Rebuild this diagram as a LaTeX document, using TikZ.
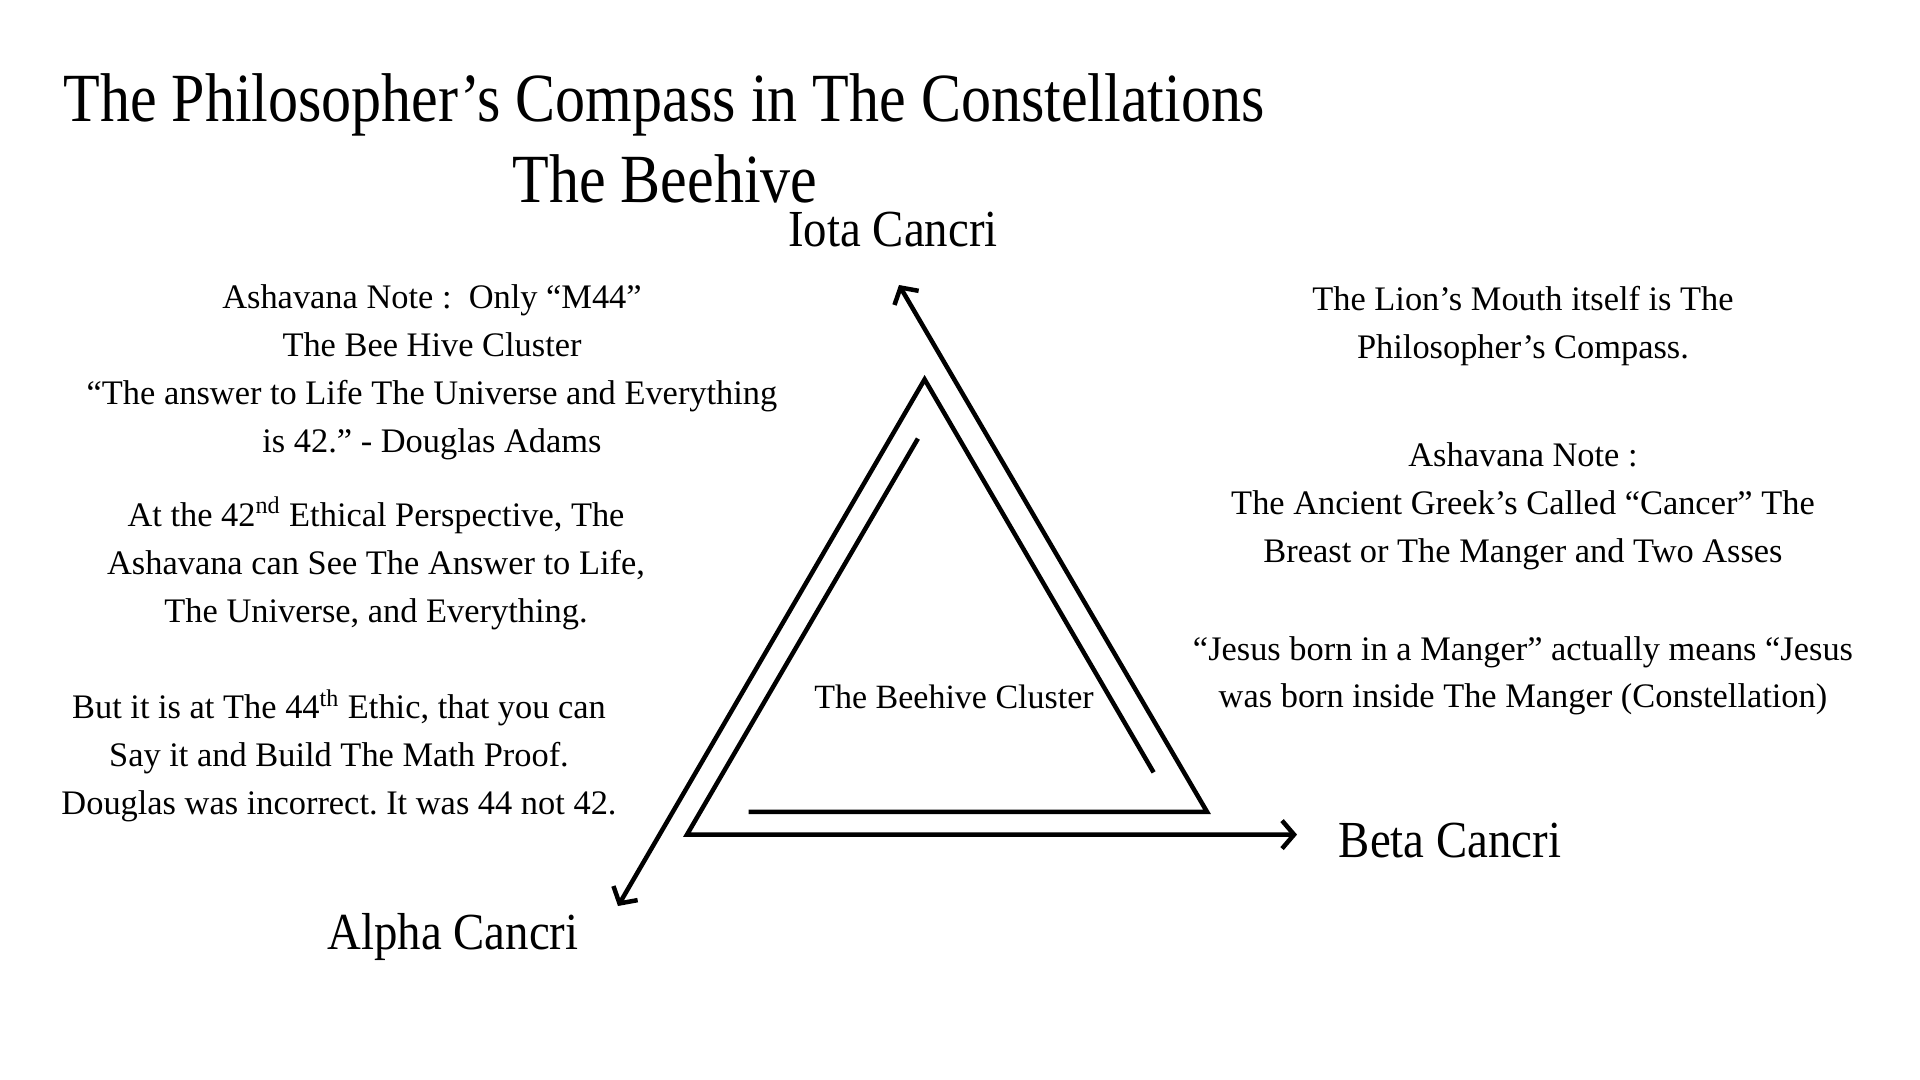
\documentclass[tikz,border=0pt]{standalone}
\usepackage{fontspec}
\setmainfont{Liberation Serif}
\newfontfamily\titlefont[FakeStretch=0.87]{Liberation Serif}
\newfontfamily\labelfont[FakeStretch=0.9]{Liberation Serif}
\usetikzlibrary{arrows.meta}
\frenchspacing
\begin{document}
\begin{tikzpicture}[x=0.5pt,y=-0.5pt,
  body/.style={font=\fontsize{17.2}{21}\selectfont, anchor=base, inner sep=0pt},
  titletext/.style={font=\titlefont\fontsize{34.5}{40}\selectfont, anchor=base, inner sep=0pt},
  starlabel/.style={font=\labelfont\fontsize{26}{30}\selectfont, anchor=base, inner sep=0pt},
  edge/.style={line width=2.25pt, line join=miter},
  tip/.style={-{Straight Barb[length=6pt,width=14pt]}}]
\fill[white] (0,0) rectangle (1920,1080);
\useasboundingbox (0,0) rectangle (1920,1080);

% titles
\node[titletext] (title) at (664,122) {The Philosopher’s Compass in The Constellations};
\node[titletext] (subtitle) at (665,203) {The Beehive};

% star labels
\node[starlabel] (iota) at (893,247) {Iota Cancri};
\node[starlabel] (alpha) at (453,949) {Alpha Cancri};
\node[starlabel] (beta) at (1450,857) {Beta Cancri};
\node[body, font=\fontsize{17}{21}\selectfont] (cluster) at (954,708) {The Beehive Cluster};

% geometry
\coordinate (A) at (924.6,379.4);
\coordinate (R) at (1207,811.8);
\coordinate (L) at (687,834.6);
\coordinate (bottomin) at (748.7,811.8);
\coordinate (rightin) at (1153.6,772.4);
\coordinate (leftin) at (917.9,438.6);
\coordinate (iotatip) at (899,285);
\coordinate (betatip) at (1297,834.6);
\coordinate (alphatip) at (618,906);

\draw[edge, tip] (bottomin) -- (R) -- (iotatip);
\draw[edge, tip] (rightin) -- (A) -- (alphatip);
\draw[edge, tip] (leftin) -- (L) -- (betatip);

% left texts
\foreach \t [count=\i] in {{Ashavana Note :\ \ Only “M44”},{The Bee Hive Cluster},{“The answer to Life The Universe and Everything},{is 42.” - Douglas Adams}}
  \node[body] (la\i) at (432,{308.6+47.8*(\i-1)}) {\t};
\foreach \t [count=\i] in {{At the 42\textsuperscript{nd} Ethical Perspective, The},{Ashavana can See The Answer to Life,},{The Universe, and Everything.}}
  \node[body] (lb\i) at (376,{526.5+47.8*(\i-1)}) {\t};
\foreach \t [count=\i] in {{But it is at The 44\textsuperscript{th} Ethic, that you can},{Say it and Build The Math Proof.},{Douglas was incorrect. It was 44 not 42.}}
  \node[body] (lc\i) at (339,{718.8+47.8*(\i-1)}) {\t};

% right texts
\foreach \t [count=\i] in {{The Lion’s Mouth itself is The},{Philosopher’s Compass.}}
  \node[body] (ra\i) at (1523,{311+47.8*(\i-1)}) {\t};
\foreach \t [count=\i] in {{Ashavana Note :},{The Ancient Greek’s Called “Cancer” The},{Breast or The Manger and Two Asses}}
  \node[body] (rb\i) at (1523,{466.5+47.8*(\i-1)}) {\t};
\foreach \t [count=\i] in {{“Jesus born in a Manger” actually means “Jesus},{was born inside The Manger (Constellation)}}
  \node[body] (rc\i) at (1523,{660+47.8*(\i-1)}) {\t};
\end{tikzpicture}
\end{document}
